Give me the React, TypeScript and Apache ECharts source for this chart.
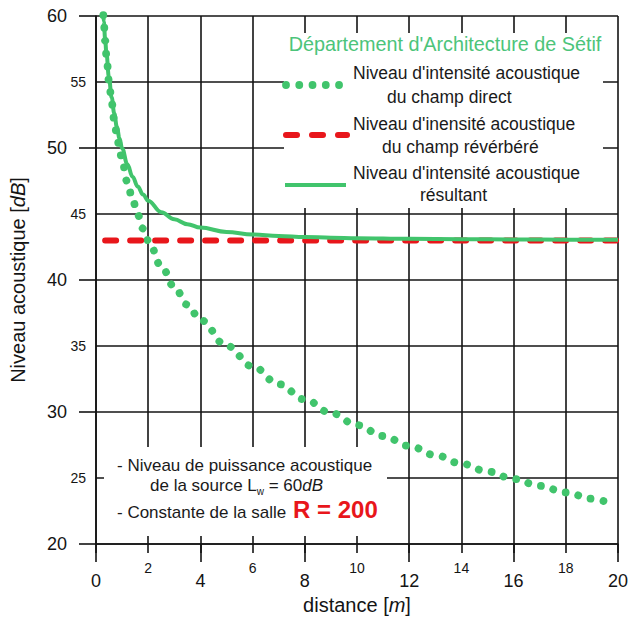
import React, { useEffect, useRef } from "react";
import * as echarts from "echarts";

// ---- data ----
const directX = [0.28, 0.3, 0.35, 0.4, 0.5, 0.6, 0.7, 0.8, 0.9, 1, 1.2, 1.4, 1.6, 1.8, 2, 2.5, 3, 3.5, 4, 5, 6, 7, 8, 9, 10, 11, 12, 13, 14, 15, 16, 17, 18, 19, 19.55];
const directY = [60.07, 59.47, 58.13, 56.97, 55.03, 53.45, 52.11, 50.95, 49.93, 49.01, 47.43, 46.09, 44.93, 43.9, 42.99, 41.05, 39.47, 38.13, 36.97, 35.03, 33.45, 32.11, 30.95, 29.93, 29.01, 28.18, 27.43, 26.73, 26.09, 25.49, 24.93, 24.4, 23.9, 23.43, 23.18];

const reverbX = [0.35, 20];
const reverbY = [43, 43];

const totalX = [0.28, 0.3, 0.35, 0.4, 0.5, 0.6, 0.7, 0.8, 0.9, 1, 1.2, 1.4, 1.6, 1.8, 2, 2.5, 3, 3.5, 4, 5, 6, 7, 8, 9, 10, 12, 14, 16, 18, 20];
const totalY = [60.1, 59.57, 58.26, 57.13, 55.29, 53.82, 52.61, 51.6, 50.73, 49.98, 48.77, 47.83, 47.08, 46.48, 46.01, 45.14, 44.6, 44.23, 43.97, 43.64, 43.45, 43.34, 43.26, 43.21, 43.17, 43.12, 43.09, 43.07, 43.05, 43.04];

const seriesNames = [
  "Niveau d'intensité acoustique du champ direct",
  "Niveau d'inensité acoustique du champ révérbéré",
  "Niveau d'intensité acoustique résultant",
];

const legendLines = [
  ["Niveau d'intensité acoustique", "du champ direct"],
  ["Niveau d'inensité acoustique", "du champ révérbéré"],
  ["Niveau d'intensité acoustique", "résultant"],
];
const legendTitle = "Département d'Architecture de Sétif";

const xMajorTicks = [0, 4, 8, 12, 16, 20];
const yMajorTicks = [20, 30, 40, 50, 60];

const GREEN = "#41c46c";
const RED = "#e8161b";
const INK = "#141414";
const FONT = "'Liberation Sans', Arial, Helvetica, sans-serif";

const zip = (xs: number[], ys: number[]) => xs.map((x, i) => [x, ys[i]]);

export default function App() {
  const ref = useRef<HTMLDivElement>(null);

  useEffect(() => {
    if (!ref.current) return;
    const chart = echarts.init(ref.current, null, { renderer: "svg" });

    const gridLine = { show: true, lineStyle: { color: INK, width: 1.6 } };

    const legendY = [73, 124, 173];
    const legendY2 = [97, 147, 195];
    const legendX2 = [387, 382, 420];

    const graphic: any[] = [
      // white boxes hiding the grid
      { type: "rect", z: 5, shape: { x: 284, y: 33, width: 319, height: 175 }, style: { fill: "#fff" } },
      { type: "rect", z: 5, shape: { x: 104, y: 447, width: 283, height: 89 }, style: { fill: "#fff" } },
      {
        type: "text", z: 6, x: 445, y: 44,
        style: { text: legendTitle, fill: "#4cc47a", fontSize: 19.8, fontFamily: FONT, align: "center", verticalAlign: "middle" },
      },
      // legend samples
      { type: "line", z: 6, shape: { x1: 286, y1: 85, x2: 342, y2: 85 }, style: { stroke: GREEN, lineWidth: 7.8, lineCap: "round", lineDash: [0.01, 13.25] } },
      { type: "line", z: 6, shape: { x1: 286, y1: 135, x2: 347, y2: 135 }, style: { stroke: RED, lineWidth: 6, lineCap: "round", lineDash: [11, 15] } },
      { type: "line", z: 6, shape: { x1: 285, y1: 185, x2: 346, y2: 185 }, style: { stroke: GREEN, lineWidth: 4 } },
    ];
    legendLines.forEach((l, i) => {
      graphic.push({
        type: "text", z: 6, x: 353, y: legendY[i],
        style: { text: l[0], fill: "#1a1a1a", fontSize: 17.5, fontFamily: FONT, align: "left", verticalAlign: "middle" },
      });
      graphic.push({
        type: "text", z: 6, x: legendX2[i], y: legendY2[i],
        style: { text: l[1], fill: "#1a1a1a", fontSize: 17.5, fontFamily: FONT, align: "left", verticalAlign: "middle" },
      });
    });
    // annotation
    graphic.push(
      {
        type: "text", z: 6, x: 117, y: 465,
        style: { text: "- Niveau de puissance acoustique", fill: "#1a1a1a", fontSize: 17, fontFamily: FONT, align: "left", verticalAlign: "middle" },
      },
      {
        type: "text", z: 6, x: 150, y: 485,
        style: {
          text: "{n|de la source L}{s|w}{n| = 60}{i|dB}",
          fill: "#1a1a1a", fontSize: 17, fontFamily: FONT, align: "left", verticalAlign: "middle",
          rich: {
            n: { fontSize: 17, fontFamily: FONT, fill: "#1a1a1a", verticalAlign: "bottom" },
            s: { fontSize: 10, fontFamily: FONT, fill: "#1a1a1a", verticalAlign: "bottom", padding: [0, 0, -3, 0] },
            i: { fontSize: 17, fontFamily: FONT, fill: "#1a1a1a", fontStyle: "italic", verticalAlign: "bottom" },
          },
        },
      },
      {
        type: "text", z: 6, x: 117, y: 512,
        style: { text: "- Constante de la salle", fill: "#1a1a1a", fontSize: 17, fontFamily: FONT, align: "left", verticalAlign: "middle" },
      },
      {
        type: "text", z: 6, x: 293, y: 509,
        style: { text: "R = 200", fill: RED, fontSize: 24, fontWeight: "bold", fontFamily: FONT, align: "left", verticalAlign: "middle" },
      }
    );

    chart.setOption({
      animation: false,
      backgroundColor: "#fff",
      grid: { left: 92, right: 11, top: 16, bottom: 77, containLabel: false },
      xAxis: [
        {
          type: "value", min: 0, max: 20, interval: 4, position: "bottom",
          axisLine: { show: true, onZero: false, lineStyle: { color: INK, width: 1.6 } },
          axisTick: { show: true, length: 18, lineStyle: { color: INK, width: 1.6 } },
          splitLine: { show: false },
          axisLabel: { show: true, margin: 28, fontSize: 18, color: INK, fontFamily: FONT, formatter: (v: number) => (xMajorTicks.includes(v) ? String(v) : "") },
          name: "{a|distance [}{b|m}{a|]}",
          nameLocation: "middle",
          nameGap: 50,
          nameTextStyle: {
            rich: {
              a: { fontSize: 20, fontFamily: FONT, color: INK },
              b: { fontSize: 20, fontFamily: FONT, color: INK, fontStyle: "italic" },
            },
          },
        },
        {
          type: "value", min: 0, max: 20, interval: 2, position: "bottom", offset: 0,
          axisLine: { show: false },
          axisTick: { show: true, length: 9, lineStyle: { color: INK, width: 1.6 } },
          splitLine: gridLine,
          axisLabel: { show: true, margin: 17, fontSize: 14, color: INK, fontFamily: FONT, formatter: (v: number) => (xMajorTicks.includes(v) ? "" : String(v)) },
        },
      ],
      yAxis: [
        {
          type: "value", min: 20, max: 60, interval: 10, position: "left",
          axisLine: { show: true, onZero: false, lineStyle: { color: INK, width: 1.6 } },
          axisTick: { show: true, length: 17, lineStyle: { color: INK, width: 1.6 } },
          splitLine: { show: false },
          axisLabel: { show: true, margin: 29, fontSize: 18, color: INK, fontFamily: FONT, formatter: (v: number) => (yMajorTicks.includes(v) ? String(v) : "") },
          name: "{a|Niveau acoustique [}{b|dB}{a|]}",
          nameLocation: "middle",
          nameGap: 68,
          nameTextStyle: {
            rich: {
              a: { fontSize: 20, fontFamily: FONT, color: INK },
              b: { fontSize: 20, fontFamily: FONT, color: INK, fontStyle: "italic" },
            },
          },
        },
        {
          type: "value", min: 20, max: 60, interval: 5, position: "left", offset: 0,
          axisLine: { show: false },
          axisTick: { show: false },
          splitLine: gridLine,
          axisLabel: { show: true, margin: 10, fontSize: 14, color: INK, fontFamily: FONT, formatter: (v: number) => (yMajorTicks.includes(v) ? "" : String(v)) },
        },
      ],
      series: [
        {
          name: seriesNames[0], type: "line", xAxisIndex: 0, yAxisIndex: 0,
          data: zip(directX, directY), showSymbol: false, symbol: "none", smooth: 0.4, smoothMonotone: "x", clip: false, z: 3,
          lineStyle: { color: GREEN, width: 7.8, type: [0.01, 12.9], cap: "round" },
        },
        {
          name: seriesNames[1], type: "line", xAxisIndex: 0, yAxisIndex: 0,
          data: zip(reverbX, reverbY), showSymbol: false, symbol: "none", clip: false, z: 3,
          lineStyle: { color: RED, width: 6, type: [11, 14], cap: "round" },
        },
        {
          name: seriesNames[2], type: "line", xAxisIndex: 0, yAxisIndex: 0,
          data: zip(totalX, totalY), showSymbol: false, symbol: "none", smooth: 0.4, smoothMonotone: "x", clip: false, z: 4,
          lineStyle: { color: GREEN, width: 4 },
        },
      ],
      graphic,
    });

    return () => chart.dispose();
  }, []);

  return (
    <div
      ref={ref}
      style={{ position: "fixed", left: 0, top: 0, width: 631, height: 621, background: "#fff" }}
    />
  );
}
